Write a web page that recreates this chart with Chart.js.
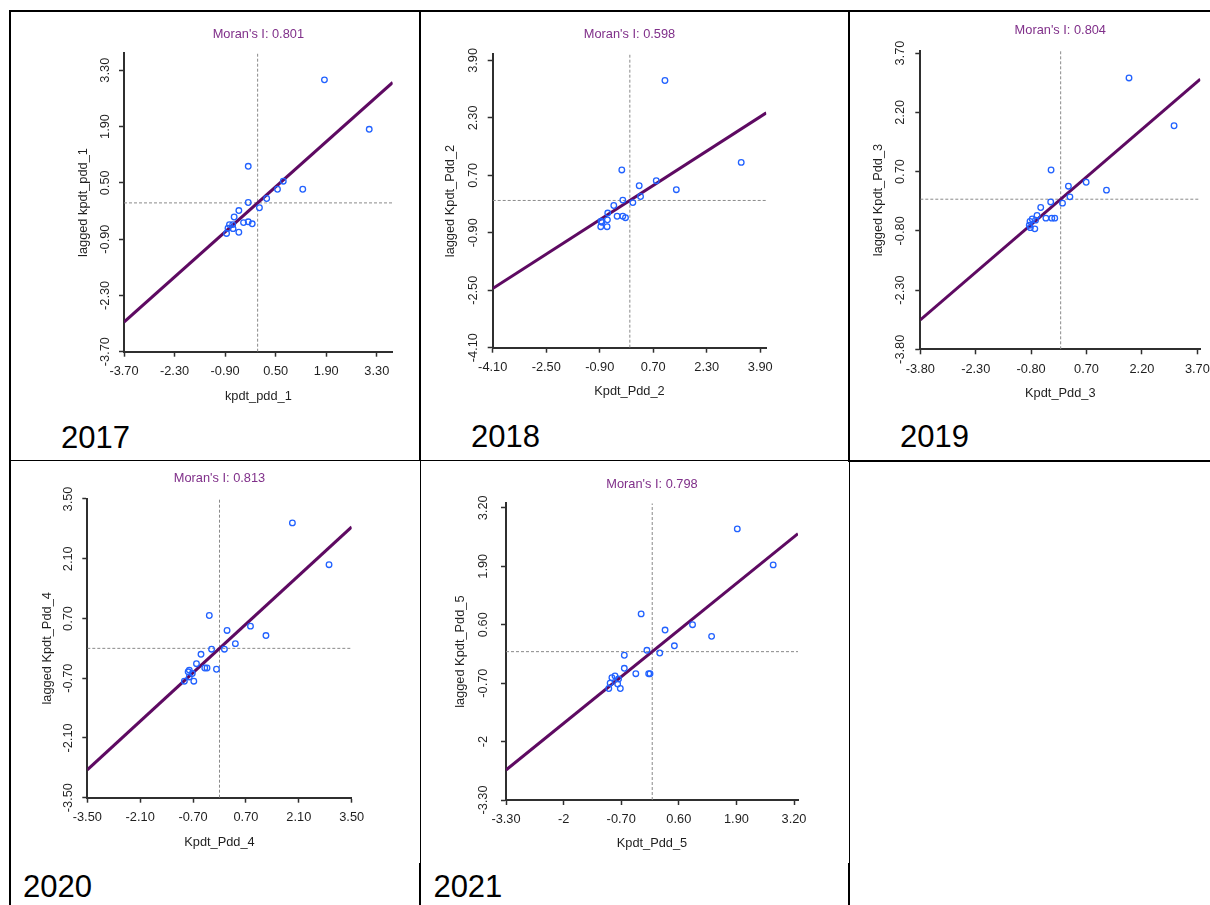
<!DOCTYPE html>
<html>
<head>
<meta charset="utf-8">
<title>Moran scatterplots 2017-2021</title>
<script src="https://cdn.jsdelivr.net/npm/chart.js@4.4.1/dist/chart.umd.min.js"></script>
<style>
  html, body { margin: 0; padding: 0; background: #fff; overflow: hidden; width: 1210px; height: 905px; }
  #page { position: relative; width: 1210px; height: 905px; overflow: hidden; background: #fff; }
  .rule { position: absolute; background: #000; }
  canvas { position: absolute; }
  .year { position: absolute; font-family: "Liberation Sans", Arial, sans-serif; font-size: 31px; line-height: 31px; color: #000; white-space: nowrap; }
</style>
</head>
<body>
<div id="page"></div>
<script>
// ---- values ----
const years = ['2017', '2018', '2019', '2020', '2021'];
const moranI = [0.801, 0.598, 0.804, 0.813, 0.798];
const xNames = ['kpdt_pdd_1', 'Kpdt_Pdd_2', 'Kpdt_Pdd_3', 'Kpdt_Pdd_4', 'Kpdt_Pdd_5'];
const yNames = ['lagged kpdt_pdd_1', 'lagged Kpdt_Pdd_2', 'lagged Kpdt_Pdd_3', 'lagged Kpdt_Pdd_4', 'lagged Kpdt_Pdd_5'];

const ticks2017 = [-3.70, -2.30, -0.90, 0.50, 1.90, 3.30];
const ticks2018 = [-4.10, -2.50, -0.90, 0.70, 2.30, 3.90];
const ticks2019 = [-3.80, -2.30, -0.80, 0.70, 2.20, 3.70];
const ticks2020 = [-3.50, -2.10, -0.70, 0.70, 2.10, 3.50];
const ticks2021 = [-3.30, -2, -0.70, 0.60, 1.90, 3.20];

const labels2017 = ['-3.70', '-2.30', '-0.90', '0.50', '1.90', '3.30'];
const labels2018 = ['-4.10', '-2.50', '-0.90', '0.70', '2.30', '3.90'];
const labels2019 = ['-3.80', '-2.30', '-0.80', '0.70', '2.20', '3.70'];
const labels2020 = ['-3.50', '-2.10', '-0.70', '0.70', '2.10', '3.50'];
const labels2021 = ['-3.30', '-2', '-0.70', '0.60', '1.90', '3.20'];

// upper ends of the axes (lower ends are the first tick)
const xMax = [3.74, 4.08, 3.78, 3.50, 3.29];
const yMax = [3.72, 4.07, 3.76, 3.50, 3.30];

const x2017 = [1.85, 3.09, -0.26, 0.71, 0.55, 1.25, 0.25, -0.26, 0.05, -0.52, -0.65, -0.39, -0.26, -0.15, -0.78, -0.69, -0.82, -0.68, -0.52, -0.86];
const y2017 = [3.06, 1.83, 0.91, 0.54, 0.34, 0.34, 0.11, 0.01, -0.12, -0.19, -0.35, -0.49, -0.47, -0.52, -0.54, -0.54, -0.63, -0.64, -0.73, -0.76];

const x2018 = [1.05, 3.33, -0.24, 0.28, 0.79, 1.39, 0.32, -0.21, 0.09, -0.48, -0.66, -0.38, -0.21, -0.13, -0.67, -0.84, -0.87, -0.68, -0.86];
const y2018 = [3.34, 1.06, 0.85, 0.41, 0.55, 0.30, 0.11, 0.01, -0.06, -0.14, -0.35, -0.44, -0.44, -0.48, -0.54, -0.61, -0.73, -0.73, -0.58];

const x2019 = [1.85, 3.07, -0.26, 0.21, 0.69, 1.24, 0.25, -0.27, 0.05, -0.54, -0.64, -0.40, -0.24, -0.16, -0.68, -0.77, -0.83, -0.85, -0.82, -0.70];
const y2019 = [3.07, 1.86, 0.74, 0.33, 0.43, 0.23, 0.06, -0.07, -0.10, -0.21, -0.41, -0.48, -0.48, -0.48, -0.53, -0.50, -0.56, -0.66, -0.72, -0.75];

const x2020 = [1.93, 2.90, -0.27, 0.20, 0.82, 1.23, 0.42, 0.13, -0.21, -0.49, -0.61, -0.39, -0.33, -0.08, -0.80, -0.83, -0.72, -0.80, -0.93, -0.68];
const y2020 = [2.94, 1.96, 0.77, 0.42, 0.52, 0.30, 0.11, -0.02, -0.02, -0.14, -0.36, -0.46, -0.46, -0.49, -0.51, -0.55, -0.59, -0.67, -0.77, -0.77];

const x2021 = [1.92, 2.73, -0.25, 0.29, 0.91, 1.34, 0.50, -0.12, 0.17, -0.63, -0.63, -0.37, -0.08, -0.05, -0.91, -0.84, -0.76, -0.95, -0.78, -0.98, -0.72];
const y2021 = [2.73, 1.93, 0.84, 0.48, 0.60, 0.34, 0.13, 0.03, -0.03, -0.08, -0.37, -0.49, -0.49, -0.49, -0.58, -0.54, -0.61, -0.70, -0.72, -0.82, -0.82];

const tickValues = [ticks2017, ticks2018, ticks2019, ticks2020, ticks2021];
const tickLabels = [labels2017, labels2018, labels2019, labels2020, labels2021];
const pointsX = [x2017, x2018, x2019, x2020, x2021];
const pointsY = [y2017, y2018, y2019, y2020, y2021];

// ---- page layout (pixels) ----
// L/R/T/B: plot box; titleCY: centre of heading; yTitleCX / xTitleCY: axis titles;
// yTickCX / xTickCY: centres of tick labels; yearX / yearBase: panel caption
const panelLayout = [
  { L: 124.0, R: 392.7, T: 53.3, B: 351.7, titleCY: 34.0, yTitleCX: 83.5, xTitleCY: 396.5, yTickCX: 105.5, xTickCY: 371.5, yearX: 61, yearBase: 448.3 },
  { L: 492.7, R: 766.3, T: 54.3, B: 347.7, titleCY: 34.7, yTitleCX: 450.5, xTitleCY: 391.2, yTickCX: 473.3, xTickCY: 367.2, yearX: 471, yearBase: 447.3 },
  { L: 920.3, R: 1200.3, T: 50.7, B: 349.3, titleCY: 30.0, yTitleCX: 878.5, xTitleCY: 393.0, yTickCX: 900.0, xTickCY: 369.2, yearX: 900, yearBase: 447.3 },
  { L: 87.3, R: 351.7, T: 499.0, B: 797.7, titleCY: 478.7, yTitleCX: 47.5, xTitleCY: 842.2, yTickCX: 68.7, xTickCY: 817.8, yearX: 23, yearBase: 897.3 },
  { L: 506.0, R: 798.0, T: 503.3, B: 800.0, titleCY: 484.2, yTitleCX: 460.2, xTitleCY: 843.0, yTickCX: 483.8, xTickCY: 819.2, yearX: 433.4, yearBase: 897.3 }
];

// table rules framing the panels
const rules = [
  { l: 9, t: 10, w: 1201, h: 2 },
  { l: 9, t: 10, w: 2, h: 895 },
  { l: 419, t: 10, w: 2, h: 451 },
  { l: 420, t: 461, w: 1, h: 444 },
  { l: 419, t: 863, w: 2, h: 42 },
  { l: 848, t: 10, w: 2, h: 451 },
  { l: 849, t: 461, w: 1, h: 444 },
  { l: 848, t: 863, w: 2, h: 42 },
  { l: 9, t: 460, w: 840, h: 1 },
  { l: 848, t: 460, w: 362, h: 2 }
];

const FONT = '"Liberation Sans", Arial, Helvetica, sans-serif';
const FS = 12.8;
const LH = FS * 1.2;
const purple = '#80308a';
const fitColor = '#5e0a62';
const pointColor = '#2262ff';
const axisColor = '#2f2f2f';
const textColor = '#1f1f1f';
const dashColor = '#8a8a8a';

Chart.defaults.font.family = FONT;
Chart.defaults.font.size = FS;

const page = document.getElementById('page');

rules.forEach(r => {
  const d = document.createElement('div');
  d.className = 'rule';
  d.style.left = r.l + 'px'; d.style.top = r.t + 'px';
  d.style.width = r.w + 'px'; d.style.height = r.h + 'px';
  page.appendChild(d);
});

const measureCtx = document.createElement('canvas').getContext('2d');
measureCtx.font = FS + 'px ' + FONT;

function makePanel(i) {
  const s = panelLayout[i];
  const ticks = tickValues[i];
  const labels = tickLabels[i];
  const xmin = ticks[0], ymin = ticks[0];
  const xmax = xMax[i], ymax = yMax[i];

  const widest = Math.max(...labels.map(t => measureCtx.measureText(t).width));

  const scaleLeft = s.yTitleCX - LH / 2;
  const cl = Math.floor(scaleLeft - 2);
  const ct = Math.floor(s.titleCY - LH / 2 - 2);
  const W = Math.ceil(s.R + 22 - cl);
  const H = Math.ceil(s.xTitleCY + LH / 2 + 2 - ct);
  const pad = {
    left: scaleLeft - cl,
    top: s.titleCY - LH / 2 - ct,
    right: cl + W - s.R,
    bottom: ct + H - (s.xTitleCY + LH / 2)
  };
  const titleGap = s.T - (s.titleCY + LH / 2);
  const yW = s.L - scaleLeft;
  const xH = s.xTitleCY + LH / 2 - s.B;
  const tickLen = 5;
  const yTickPad = s.L - s.yTickCX - tickLen - widest / 2;
  const xTickPad = s.xTickCY - s.B - tickLen - LH / 2;

  const canvas = document.createElement('canvas');
  canvas.width = W; canvas.height = H;
  canvas.style.left = cl + 'px'; canvas.style.top = ct + 'px';
  canvas.style.width = W + 'px'; canvas.style.height = H + 'px';
  page.appendChild(canvas);

  const cap = document.createElement('div');
  cap.className = 'year';
  cap.textContent = years[i];
  cap.style.left = s.yearX + 'px';
  cap.style.top = (s.yearBase - 26.2) + 'px';
  page.appendChild(cap);

  const pts = pointsX[i].map((x, k) => ({ x: x, y: pointsY[i][k] }));
  const slope = moranI[i];
  const fitLine = [{ x: xmin, y: slope * xmin }, { x: xmax, y: slope * xmax }];

  const axisCommon = {
    type: 'linear',
    grid: { display: true, drawOnChartArea: false, drawTicks: true, tickLength: tickLen, tickWidth: 1.5, tickColor: axisColor, color: axisColor },
    border: { display: true, color: axisColor, width: 2 }
  };

  new Chart(canvas, {
    data: {
      datasets: [
        { type: 'scatter', label: 'counties', data: pts, pointStyle: 'circle', pointRadius: 2.8, pointBorderWidth: 1.3,
          borderColor: pointColor, backgroundColor: 'rgba(0,0,0,0)', pointBackgroundColor: 'rgba(0,0,0,0)', pointBorderColor: pointColor },
        { type: 'scatter', label: 'fit', data: fitLine, showLine: true, pointRadius: 0, borderColor: fitColor, borderWidth: 3 },
        { type: 'scatter', label: 'mean y', data: [{ x: xmin, y: 0 }, { x: xmax, y: 0 }], showLine: true, pointRadius: 0,
          borderColor: dashColor, borderWidth: 1, borderDash: [3, 2] },
        { type: 'scatter', label: 'mean x', data: [{ x: 0, y: ymin }, { x: 0, y: ymax }], showLine: true, pointRadius: 0,
          borderColor: dashColor, borderWidth: 1, borderDash: [3, 2] }
      ]
    },
    options: {
      responsive: false,
      devicePixelRatio: 1,
      animation: false,
      events: [],
      layout: { padding: pad },
      plugins: {
        legend: { display: false },
        tooltip: { enabled: false },
        title: {
          display: true, text: "Moran's I: " + moranI[i].toFixed(3), fullSize: false, align: 'center',
          color: purple, font: { size: FS, weight: 'normal' }, padding: { top: 0, bottom: titleGap }
        }
      },
      scales: {
        x: Object.assign({}, axisCommon, {
          position: 'bottom', min: xmin, max: xmax,
          afterBuildTicks: sc => { sc.ticks = ticks.map(v => ({ value: v })); },
          afterFit: sc => { sc.height = xH; },
          ticks: { autoSkip: false, minRotation: 0, maxRotation: 0, padding: xTickPad, color: textColor,
                   font: { size: FS }, callback: (v, k) => labels[k] },
          title: { display: true, text: xNames[i], padding: 0, color: textColor, font: { size: FS } }
        }),
        y: Object.assign({}, axisCommon, {
          position: 'left', min: ymin, max: ymax,
          afterBuildTicks: sc => { sc.ticks = ticks.map(v => ({ value: v })); },
          afterFit: sc => { sc.width = yW; },
          ticks: { autoSkip: false, minRotation: 90, maxRotation: 90, crossAlign: 'center', padding: yTickPad,
                   color: textColor, font: { size: FS }, callback: (v, k) => labels[k] },
          title: { display: true, text: yNames[i], padding: 0, color: textColor, font: { size: FS } }
        })
      }
    }
  });
}

for (let i = 0; i < years.length; i++) makePanel(i);
</script>
</body>
</html>
